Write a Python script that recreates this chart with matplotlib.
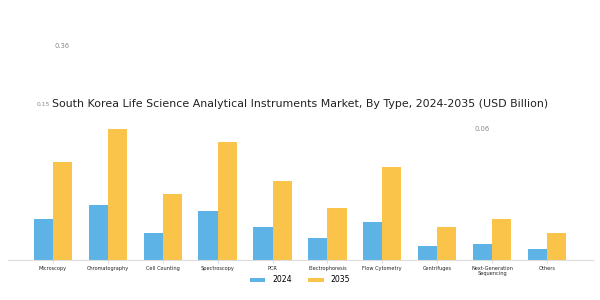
import matplotlib
matplotlib.use("Agg")
import matplotlib.pyplot as plt
import numpy as np

categories = ["Microscopy", "Chromatography", "Cell Counting", "Spectroscopy", "PCR",
              "Electrophoresis", "Flow Cytometry", "Centrifuges",
              "Next-Generation\nSequencing", "Others"]
values_2024 = [0.15, 0.20, 0.10, 0.18, 0.12, 0.08, 0.14, 0.05, 0.06, 0.04]
values_2035 = [0.36, 0.48, 0.24, 0.43, 0.29, 0.19, 0.34, 0.12, 0.15, 0.10]
series_labels = ["2024", "2035"]
title = "South Korea Life Science Analytical Instruments Market, By Type, 2024-2035 (USD Billion)"

c2024 = "#5DB3E6"
c2035 = "#FAC44B"

fig = plt.figure(figsize=(6, 3), dpi=100)
ax = fig.add_axes([8/600, 40/300, 585/600, 145/300])
x = np.arange(len(categories))
w = 0.35
ax.bar(x - w/2, values_2024, w, color=c2024, label=series_labels[0])
ax.bar(x + w/2, values_2035, w, color=c2035, label=series_labels[1])
ax.set_xlim(-0.82, 9.84)
ax.set_ylim(0, 0.53)
ax.set_xticks(x)
ax.set_xticklabels(categories, fontsize=3.6, color="#222222")
ax.tick_params(axis='x', length=2, width=0.5, color="#cccccc", pad=2)
ax.set_yticks([])
for s in ["top", "right", "left"]:
    ax.spines[s].set_visible(False)
ax.spines["bottom"].set_color("#dddddd")
ax.spines["bottom"].set_linewidth(0.8)

fig.text(0.5, 1 - 104/300, title, ha="center", va="center", fontsize=7.9, color="#222222")

# floating value labels as in the reference
fig.text(62.5/600, 1 - 46/300, f"{values_2035[0]:.2f}", ha="center", va="center", fontsize=4.9, color="#888888")
fig.text(43/600, 1 - 104/300, f"{values_2024[0]:.2f}", ha="center", va="center", fontsize=4.3, color="#888888")
fig.text(482/600, 1 - 129/300, f"{values_2024[8]:.2f}", ha="center", va="center", fontsize=4.9, color="#888888")

fig.legend(loc="center", bbox_to_anchor=(0.5, 1 - 280/300), ncol=2, frameon=False,
           fontsize=5.6, handlelength=2.0, handleheight=0.5, handletextpad=0.9,
           columnspacing=2.1)

fig.savefig("out.png", dpi=100)
